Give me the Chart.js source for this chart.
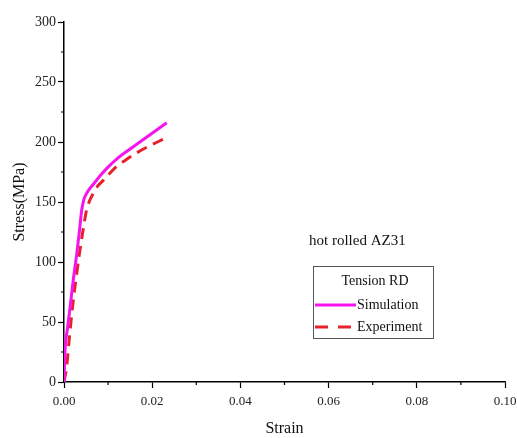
<!DOCTYPE html>
<html>
<head>
<meta charset="utf-8">
<script src="https://cdn.jsdelivr.net/npm/chart.js@4/dist/chart.umd.min.js"></script>
<style>
  html, body { margin: 0; padding: 0; background: #fff; }
  #wrap { width: 517px; height: 438px; }
</style>
</head>
<body>
<div id="wrap"><canvas id="c" width="517" height="438"></canvas></div>
<script>
// values
const simStrain = [0, 0.0002, 0.0008, 0.0014, 0.0021, 0.0029, 0.0035, 0.0040, 0.0045, 0.0051, 0.0058, 0.0067, 0.0080, 0.0097, 0.0120, 0.0157, 0.0195, 0.0233];
const simStress = [0, 24, 45, 63, 85, 107, 126, 143, 152, 157, 161, 165, 171, 178, 186, 196, 206, 216];
const expStrain = [0, 0.0006, 0.0013, 0.0021, 0.0028, 0.0035, 0.0043, 0.0051, 0.0058, 0.0066, 0.0076, 0.0089, 0.0104, 0.0119, 0.0140, 0.0165, 0.0195, 0.0229];
const expStress = [0, 13, 40, 68, 88, 107, 126, 143, 151, 157, 163, 168, 174, 179.5, 185, 191, 197, 203];
const yTicks = [0, 50, 100, 150, 200, 250, 300];
const xTicks = [0, 0.02, 0.04, 0.06, 0.08, 0.10];
const seriesNames = ['Simulation', 'Experiment'];
const legendTitle = 'Tension RD';
const noteText = 'hot rolled AZ31';

const SERIF = '"Liberation Serif", "Times New Roman", serif';

function pts(xs, ys) {
  let out = [];
  for (let i = 0; i < xs.length; i++) out.push({ x: xs[i], y: ys[i] });
  return out;
}

// minor ticks + boxed legend + note text
const extras = {
  id: 'extras',
  afterDraw(chart) {
    const ctx = chart.ctx;
    const xs = chart.scales.x, ys = chart.scales.y;
    ctx.save();
    ctx.strokeStyle = '#000';
    ctx.lineWidth = 1.2;
    ctx.beginPath();
    for (let v = 25; v < 300; v += 50) {
      const p = ys.getPixelForValue(v);
      ctx.moveTo(xs.left, p); ctx.lineTo(xs.left - 3, p);
    }
    for (let v = 0.01; v < 0.1; v += 0.02) {
      const p = xs.getPixelForValue(v);
      ctx.moveTo(p, ys.bottom); ctx.lineTo(p, ys.bottom + 3);
    }
    ctx.stroke();

    ctx.fillStyle = '#111';
    ctx.font = '15px ' + SERIF;
    ctx.textBaseline = 'middle';
    ctx.textAlign = 'left';
    ctx.fillText(noteText, 309, 241);

    // legend box
    const bx = 313, by = 266, bw = 120, bh = 72;
    ctx.lineWidth = 1;
    ctx.strokeStyle = '#555';
    ctx.strokeRect(bx + 0.5, by + 0.5, bw, bh);
    ctx.font = '14px ' + SERIF;
    ctx.textAlign = 'center';
    ctx.fillText(legendTitle, bx + bw / 2 + 2, by + 15);
    ctx.textAlign = 'left';
    const rows = [by + 39, by + 61];
    const dashes = [[], [13, 10]];
    chart.data.datasets.forEach((ds, i) => {
      ctx.strokeStyle = ds.borderColor;
      ctx.lineWidth = ds.borderWidth;
      ctx.setLineDash(dashes[i]);
      ctx.beginPath();
      ctx.moveTo(bx + 2, rows[i]); ctx.lineTo(bx + 43, rows[i]);
      ctx.stroke();
      ctx.setLineDash([]);
      ctx.fillStyle = '#111';
      ctx.fillText(ds.label, bx + 44, rows[i]);
    });
    ctx.restore();
  }
};

new Chart(document.getElementById('c'), {
  type: 'scatter',
  data: {
    datasets: [
      { label: seriesNames[0], data: pts(simStrain, simStress), showLine: true,
        borderColor: '#f514f0', borderWidth: 3, pointRadius: 0, cubicInterpolationMode: 'monotone' },
      { label: seriesNames[1], data: pts(expStrain, expStress), showLine: true,
        borderColor: '#e8202a', borderWidth: 3, borderDash: [11, 7], pointRadius: 0, cubicInterpolationMode: 'monotone' }
    ]
  },
  options: {
    responsive: false,
    animation: false,
    layout: { padding: { left: 0, right: 12, top: 22, bottom: 0 } },
    plugins: { legend: { display: false }, tooltip: { enabled: false } },
    scales: {
      x: {
        type: 'linear', min: 0, max: 0.1,
        afterBuildTicks: s => { s.ticks = xTicks.map(v => ({ value: v })); },
        afterFit: s => { s.height = 56; s.paddingLeft = 0; s.paddingRight = 0; },
        grid: { display: true, drawOnChartArea: false, tickLength: 6, color: '#000', tickWidth: 1.2 },
        border: { display: true, color: '#000', width: 1.5 },
        ticks: { color: '#222', font: { family: SERIF, size: 13 }, padding: 6, maxRotation: 0,
                 callback: v => v.toFixed(2) },
        title: { display: true, text: 'Strain', color: '#111', font: { family: SERIF, size: 16 }, padding: { top: 4, bottom: 0 } }
      },
      y: {
        type: 'linear', min: 0, max: 300,
        afterBuildTicks: s => { s.ticks = yTicks.map(v => ({ value: v })); },
        afterFit: s => { s.width = 64; s.paddingTop = 0; s.paddingBottom = 0; },
        grid: { display: true, drawOnChartArea: false, tickLength: 6, color: '#000', tickWidth: 1.2 },
        border: { display: true, color: '#000', width: 1.5 },
        ticks: { color: '#222', font: { family: SERIF, size: 14 }, padding: 2 },
        title: { display: true, text: 'Stress(MPa)', color: '#111', font: { family: SERIF, size: 16 }, padding: { top: 10, bottom: 4 } }
      }
    }
  },
  plugins: [extras]
});
</script>
</body>
</html>
